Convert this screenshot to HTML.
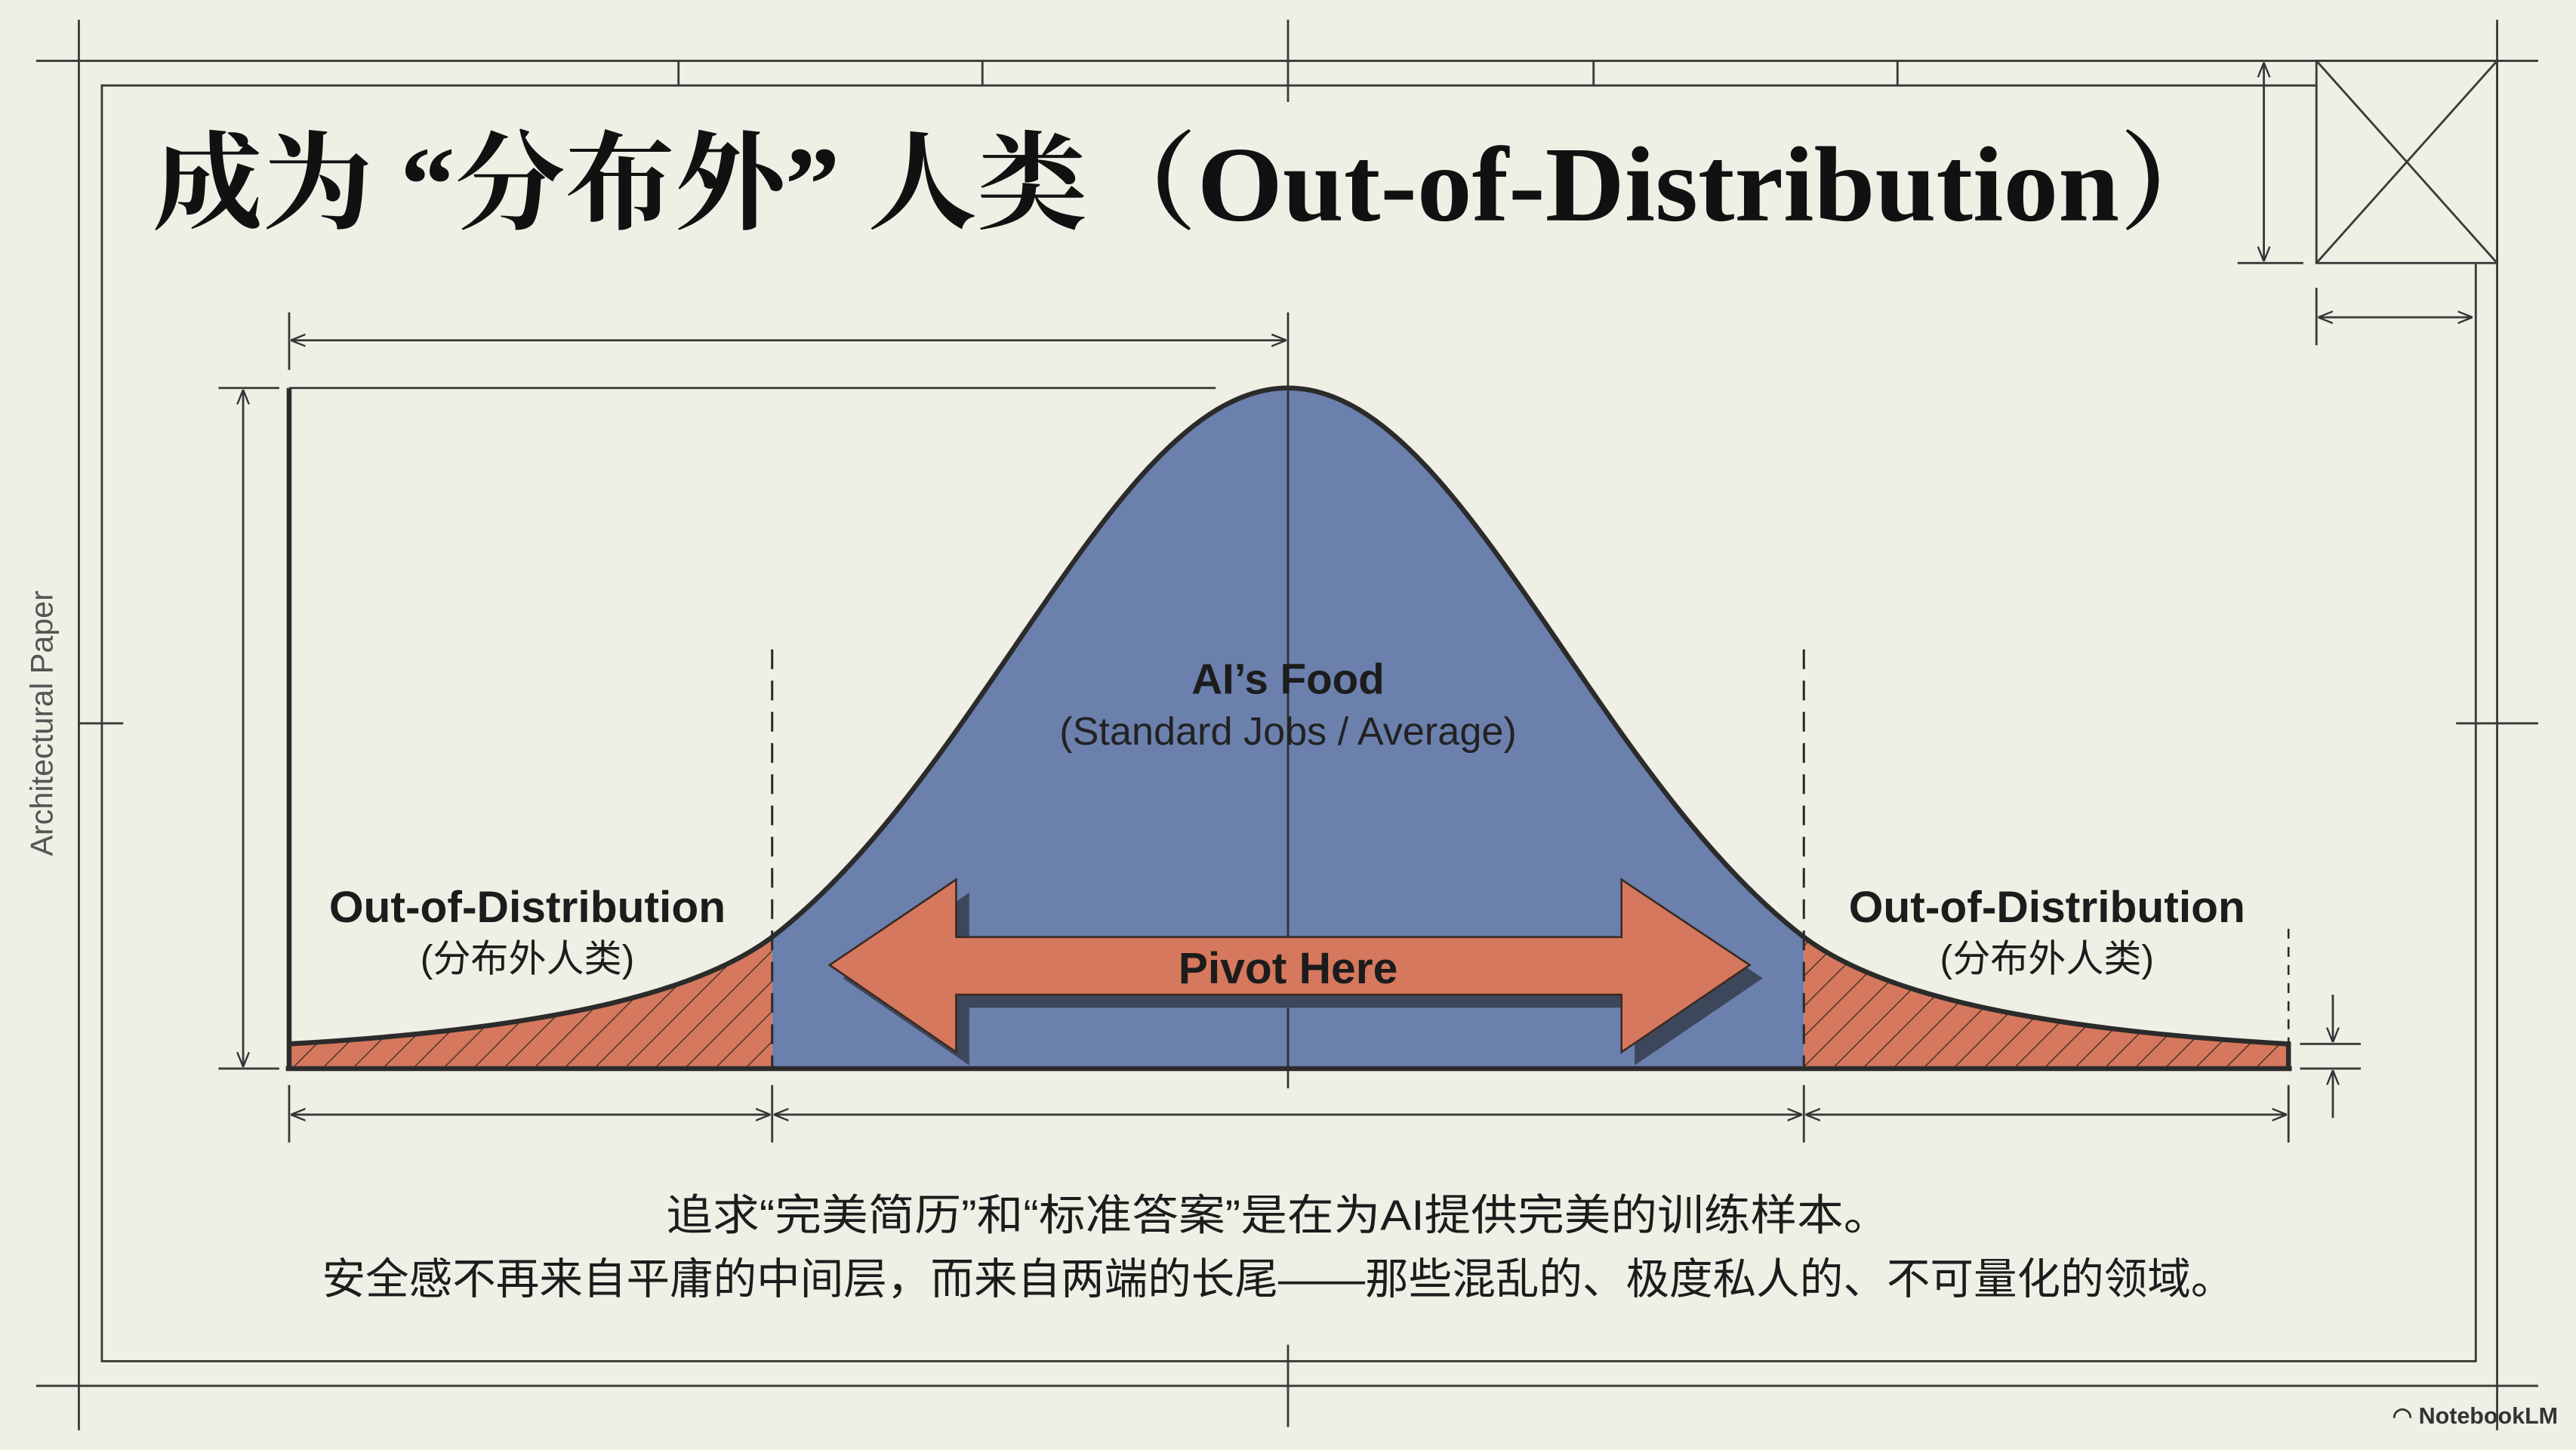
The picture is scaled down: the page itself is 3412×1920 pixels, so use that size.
<!DOCTYPE html>
<html><head><meta charset="utf-8"><style>
html,body{margin:0;padding:0;background:#efefe6;}
svg{display:block;}
</style></head><body>
<svg width="3412" height="1920" viewBox="0 0 1568 882" preserveAspectRatio="none" xmlns="http://www.w3.org/2000/svg">
<defs>
<marker id="a" viewBox="0 0 10 10" refX="10" refY="5" markerWidth="9" markerHeight="9" orient="auto-start-reverse" markerUnits="userSpaceOnUse"><path d="M0,1 L10,5 L0,9" fill="none" stroke="#333" stroke-width="1.2"/></marker>
<pattern id="h" patternUnits="userSpaceOnUse" width="13" height="13" patternTransform="rotate(45)"><rect width="13" height="13" fill="#d5785d"/><line x1="0" y1="0" x2="0" y2="13" stroke="#3a2a22" stroke-width="1.2"/></pattern>
</defs>
<rect width="1568" height="882" fill="#efefe6"/>
<g stroke="#3a3a38" fill="none" stroke-width="1.3">
<line x1="22" y1="37" x2="1545" y2="37"/>
<line x1="22" y1="843" x2="1545" y2="843"/>
<line x1="48" y1="12" x2="48" y2="870"/>
<line x1="1520" y1="12" x2="1520" y2="870"/>
<polyline points="1410,52 62,52 62,828 1507,828 1507,160"/>
<line x1="413" y1="37" x2="413" y2="52"/><line x1="598" y1="37" x2="598" y2="52"/>
<line x1="970" y1="37" x2="970" y2="52"/><line x1="1155" y1="37" x2="1155" y2="52"/>
<line x1="784" y1="12" x2="784" y2="62"/>
<line x1="784" y1="818" x2="784" y2="868"/>
<line x1="48" y1="440" x2="75" y2="440"/><line x1="1495" y1="440" x2="1545" y2="440"/>
<rect x="1410" y="37" width="110" height="123"/>
<line x1="1410" y1="37" x2="1520" y2="160"/><line x1="1520" y1="37" x2="1410" y2="160"/>
<line x1="1378" y1="38" x2="1378" y2="159" marker-start="url(#a)" marker-end="url(#a)"/>
<line x1="1362" y1="160" x2="1402" y2="160"/>
<line x1="1410" y1="175" x2="1410" y2="210"/>
<line x1="1411" y1="193" x2="1505" y2="193" marker-start="url(#a)" marker-end="url(#a)"/>
<line x1="176" y1="190" x2="176" y2="225"/>
<line x1="177" y1="207" x2="783" y2="207" marker-start="url(#a)" marker-end="url(#a)"/>
<line x1="176" y1="236" x2="740" y2="236"/>
<line x1="133" y1="236" x2="170" y2="236"/><line x1="133" y1="650" x2="170" y2="650"/>
<line x1="148" y1="237" x2="148" y2="649" marker-start="url(#a)" marker-end="url(#a)"/>
<line x1="176" y1="660" x2="176" y2="695"/><line x1="470" y1="660" x2="470" y2="695"/>
<line x1="1098" y1="660" x2="1098" y2="695"/><line x1="1393" y1="660" x2="1393" y2="695"/>
<line x1="177" y1="678" x2="469" y2="678" marker-start="url(#a)" marker-end="url(#a)"/>
<line x1="471" y1="678" x2="1097" y2="678" marker-start="url(#a)" marker-end="url(#a)"/>
<line x1="1099" y1="678" x2="1392" y2="678" marker-start="url(#a)" marker-end="url(#a)"/>
<line x1="1400" y1="635" x2="1437" y2="635"/><line x1="1400" y1="650" x2="1437" y2="650"/>
<line x1="1420" y1="605" x2="1420" y2="634" marker-end="url(#a)"/>
<line x1="1420" y1="680" x2="1420" y2="651" marker-end="url(#a)"/>
</g>
<path d="M470,650 L470,570 C600,470 680,236 784,236 C888,236 968,470 1098,570 L1098,650 Z" fill="#6b80ad"/>
<path d="M176,650 L176,635 C350,625 430,600 470,570 L470,650 Z" fill="url(#h)"/>
<path d="M1098,650 L1098,570 C1138,600 1218,625 1393,635 L1393,650 Z" fill="url(#h)"/>
<g stroke="#2b2b2b" fill="none">
<line x1="784" y1="190" x2="784" y2="662" stroke-width="1.2"/>
<line x1="470" y1="395" x2="470" y2="650" stroke-width="1.4" stroke-dasharray="12,7"/>
<line x1="1098" y1="395" x2="1098" y2="650" stroke-width="1.4" stroke-dasharray="12,7"/>
<line x1="1393" y1="565" x2="1393" y2="635" stroke-width="1.2" stroke-dasharray="6,5"/>
<path d="M176,635 C350,625 430,600 470,570 C600,470 680,236 784,236 C888,236 968,470 1098,570 C1138,600 1218,625 1393,635 L1393,650" stroke-width="3"/>
<line x1="176" y1="236" x2="176" y2="651" stroke-width="3"/>
<line x1="174" y1="650" x2="1395" y2="650" stroke-width="3"/>
</g>
<path d="M513,595 L590,543 L590,578 L995,578 L995,543 L1073,595 L995,648 L995,613 L590,613 L590,648 Z" fill="#3d475c"/>
<path d="M505,587 L582,535 L582,570 L987,570 L987,535 L1065,587 L987,640 L987,605 L582,605 L582,640 Z" fill="#d5785d" stroke="#3a2a22" stroke-width="1.2"/>
<g font-family="'Liberation Sans','Noto Sans CJK SC',sans-serif" fill="#1c1c1c" text-anchor="middle">
<text x="784" y="598" font-size="27" font-weight="bold">Pivot Here</text>
<text x="784" y="422" font-size="26" font-weight="bold">AI’s Food</text>
<text x="784" y="453" font-size="24" fill="#222">(Standard Jobs / Average)</text>
<text x="321" y="561" font-size="27" font-weight="bold">Out-of-Distribution</text>
<text x="321" y="591" font-size="23">(分布外人类)</text>
<text x="1246" y="561" font-size="27" font-weight="bold">Out-of-Distribution</text>
<text x="1246" y="591" font-size="23">(分布外人类)</text>
<text x="778" y="748" font-size="26" textLength="745" lengthAdjust="spacingAndGlyphs">追求“完美简历”和“标准答案”是在为AI提供完美的训练样本。</text>
<text x="778" y="787" font-size="26" textLength="1164" lengthAdjust="spacingAndGlyphs">安全感不再来自平庸的中间层，而来自两端的长尾——那些混乱的、极度私人的、不可量化的领域。</text>
</g>
<text x="93" y="134" font-family="'Liberation Serif','Noto Serif CJK SC',serif" font-size="65" font-weight="bold" fill="#111" textLength="1264" lengthAdjust="spacingAndGlyphs">成为 “分布外” 人类（Out-of-Distribution）</text>
<text transform="translate(32,440) rotate(-90)" text-anchor="middle" font-family="'Liberation Sans',sans-serif" font-size="19" fill="#555">Architectural Paper</text>
<text x="1557" y="866" text-anchor="end" font-family="'Liberation Sans',sans-serif" font-size="14" fill="#333" font-weight="bold">◠ NotebookLM</text>
</svg>
</body></html>
